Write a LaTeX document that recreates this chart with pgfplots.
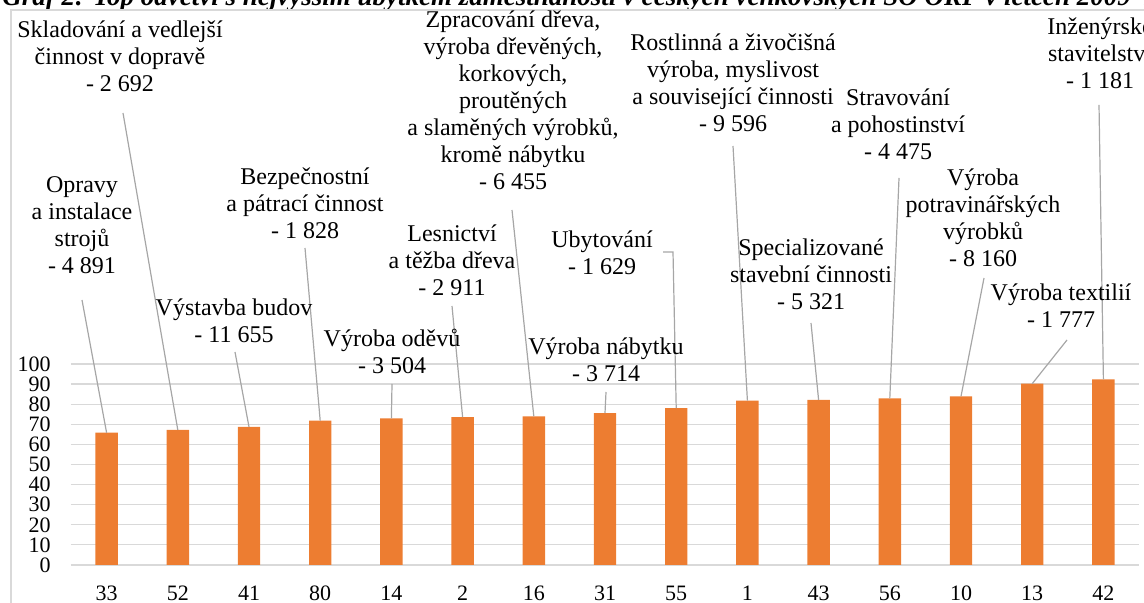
\documentclass[border=0pt]{standalone}
\usepackage{fontspec}
\setmainfont{Liberation Serif}
\usepackage{pgfplots}
\pgfplotsset{compat=1.18}
\definecolor{barorange}{HTML}{ED7D31}
\definecolor{gridgray}{HTML}{D9D9D9}
\definecolor{leadgray}{HTML}{A6A6A6}
\newcommand{\lblfont}{\fontsize{12pt}{13.5pt}\selectfont}
\newcommand{\tickfont}{\fontsize{11pt}{13pt}\selectfont}
% label: x, baseline of first line (pixels, y down), lines
\newcommand{\lbl}[3]{\foreach[count=\i from 0] \t in {#3} {\node[anchor=base, inner sep=0pt, font=\lblfont] at (#1, {#2+27*\i}) {\t};}}
\begin{document}
\begin{tikzpicture}
\useasboundingbox (0,0) rectangle (572pt,301.5pt);
\clip (0,0) rectangle (572pt,301.5pt);
\begin{axis}[
  at={(35.5pt,19pt)}, anchor=south west,
  scale only axis, width=534pt, height=100.5pt,
  xmin=-0.5, xmax=14.5, ymin=0, ymax=100,
  ybar, bar width=11.2pt,
  xtick={0,...,14},
  xticklabels={33,52,41,80,14,2,16,31,55,1,43,56,10,13,42},
  ytick={0,10,...,100},
  ymajorgrids, grid style={draw=gridgray, line width=0.6pt},
  axis line style={draw=none},
  major tick length=0pt, tick style={draw=none},
  xticklabel style={font=\tickfont, inner sep=0pt, anchor=north, text height=7.6pt, text depth=0pt, yshift=-10pt},
  yticklabel style={font=\tickfont, inner sep=0pt, xshift=-10pt},
  /pgf/number format/assume math mode=true,
  clip=false,
]
\addplot[fill=barorange, draw=none] coordinates {
 (0,65.8) (1,67.2) (2,68.7) (3,71.8) (4,73.0) (5,73.6) (6,74.0) (7,75.6)
 (8,78.1) (9,81.8) (10,82.1) (11,82.9) (12,83.9) (13,90.2) (14,92.4)};
\coordinate (b0) at (axis cs:0,65.8);
\coordinate (b1) at (axis cs:1,67.2);
\coordinate (b2) at (axis cs:2,68.7);
\coordinate (b3) at (axis cs:3,71.8);
\coordinate (b4) at (axis cs:4,73.0);
\coordinate (b5) at (axis cs:5,73.6);
\coordinate (b6) at (axis cs:6,74.0);
\coordinate (b7) at (axis cs:7,75.6);
\coordinate (b8) at (axis cs:8,78.1);
\coordinate (b9) at (axis cs:9,81.8);
\coordinate (b10) at (axis cs:10,82.1);
\coordinate (b11) at (axis cs:11,82.9);
\coordinate (b12) at (axis cs:12,83.9);
\coordinate (b13) at (axis cs:13,90.2);
\coordinate (b14) at (axis cs:14,92.4);
\end{axis}
\begin{scope}[x=0.5pt,y=-0.5pt,shift={(0,301.5pt)}]
\node[anchor=base west, inner sep=0pt, font=\bfseries\itshape\fontsize{13.5pt}{15pt}\selectfont] at (2,6) {Graf 2: Top odvětví s nejvyšším úbytkem zaměstnanosti v českých venkovských SO ORP v letech 2009–2015};
\draw[gridgray, line width=0.6pt] (11,640) -- (11,10) -- (1200,10);
\begin{scope}[leadgray, line width=0.6pt]
\draw (82,300) -- (b0);
\draw (123,113) -- (b1);
\draw (235,352) -- (b2);
\draw (305,248) -- (b3);
\draw (392,384) -- (b4);
\draw (452,306) -- (b5);
\draw (512,210) -- (b6);
\draw (606,392) -- (b7);
\draw (663,252) -- (673,252) -- (b8);
\draw (733,146) -- (b9);
\draw (811,323) -- (b10);
\draw (899,178) -- (b11);
\draw (984,278) -- (b12);
\draw (1067,340) -- (b13);
\draw (1099,105) -- (b14);
\end{scope}
\lbl{82}{193}{Opravy, a instalace, strojů, - 4 891}
\lbl{120}{38}{Skladování a vedlejší, činnost v dopravě, - 2 692}
\lbl{234}{316}{Výstavba budov, - 11 655}
\lbl{305}{185}{Bezpečnostní, a pátrací činnost, - 1 828}
\lbl{392}{347}{Výroba oděvů, - 3 504}
\lbl{452}{242}{Lesnictví, a těžba dřeva, - 2 911}
\lbl{513}{28}{{Zpracování dřeva,}, {výroba dřevěných,}, {korkových,}, proutěných, {a slaměných výrobků,}, kromě nábytku, - 6 455}
\lbl{602}{248}{Ubytování, - 1 629}
\lbl{606}{355}{Výroba nábytku, - 3 714}
\lbl{733}{51}{Rostlinná a živočišná, {výroba, myslivost}, a související činnosti, - 9 596}
\lbl{811}{256}{Specializované, stavební činnosti, - 5 321}
\lbl{898}{106}{Stravování, a pohostinství, - 4 475}
\lbl{983}{186}{Výroba, potravinářských, výrobků, - 8 160}
\lbl{1061}{301}{Výroba textilií, - 1 777}
\lbl{1100}{35}{Inženýrské, stavitelství, - 1 181}
\end{scope}
\end{tikzpicture}
\end{document}
